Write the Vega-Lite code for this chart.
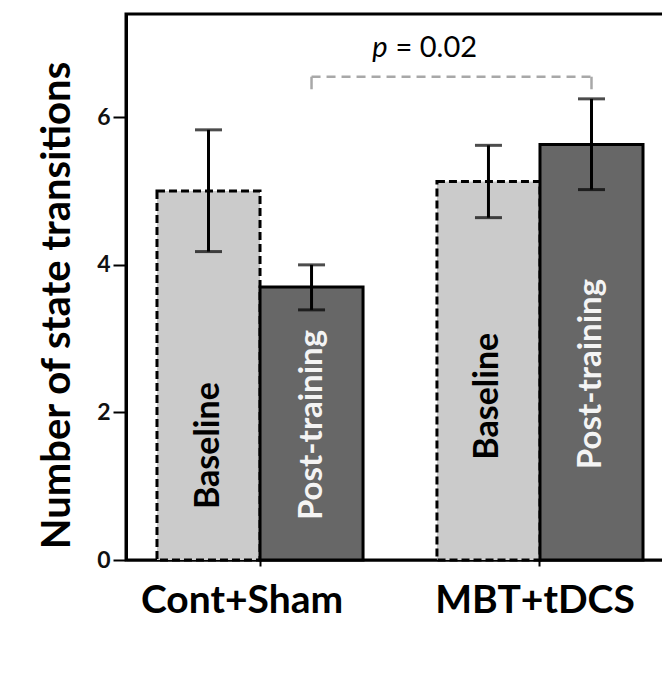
{
  "$schema": "https://vega.github.io/schema/vega-lite/v6.json",
  "width": 548,
  "height": 546,
  "autosize": {"type": "none"},
  "padding": {"left": 126, "top": 14, "right": 0, "bottom": 114},
  "background": "white",
  "config": {"view": {"stroke": "black", "strokeWidth": 3}, "font": "Lato"},
  "data": {"values": [
    {"group": "Cont+Sham", "condition": "Baseline", "mean": 5.0, "lo": 4.18, "hi": 5.83},
    {"group": "MBT+tDCS", "condition": "Baseline", "mean": 5.13, "lo": 4.64, "hi": 5.62},
    {"group": "Cont+Sham", "condition": "Post-training", "mean": 3.70, "lo": 3.39, "hi": 4.0},
    {"group": "MBT+tDCS", "condition": "Post-training", "mean": 5.63, "lo": 5.02, "hi": 6.25}
  ]},
  "encoding": {
    "x": {"field": "group", "type": "nominal", "sort": ["Cont+Sham", "MBT+tDCS"],
      "scale": {"paddingInner": 0.264, "paddingOuter": 0.1107},
      "axis": {"title": null, "labelFont": "Lato", "labelFontSize": 39, "labelFontWeight": "bold", "labelColor": "black", "labelPadding": 15, "labelLimit": 0, "labelAngle": 0,
        "labelOffset": {"condition": {"test": "datum.value === 'Cont+Sham'", "value": -18}, "value": -5},
        "tickSize": 6, "tickWidth": 2, "tickColor": "black", "domainColor": "black", "domainWidth": 2}},
    "xOffset": {"field": "condition", "type": "nominal", "sort": ["Baseline", "Post-training"], "scale": {"paddingInner": 0, "paddingOuter": 0}}
  },
  "layer": [
    {
      "mark": {"type": "bar", "stroke": "black", "strokeWidth": 3},
      "encoding": {
        "y": {"field": "mean", "type": "quantitative", "stack": null,
          "scale": {"domain": [0, 7.4], "nice": false},
          "axis": {"values": [0, 2, 4, 6], "format": "d", "grid": false, "tickSize": 13, "tickWidth": 2, "tickColor": "black", "domainColor": "black", "domainWidth": 3, "labelFontSize": 23, "labelFontWeight": "bold", "labelColor": "#111111", "labelPadding": 3, "title": "Number of state transitions", "titleFontSize": 40, "titleFontWeight": "bold", "titleColor": "black", "titleAngle": 270, "titleX": -69, "titleY": 291, "titleAlign": "center", "titleBaseline": "middle"}},
        "fill": {"field": "condition", "type": "nominal", "scale": {"domain": ["Baseline", "Post-training"], "range": ["#cbcbcb", "#676767"]}, "legend": null},
        "strokeDash": {"field": "condition", "type": "nominal", "scale": {"domain": ["Baseline", "Post-training"], "range": [[8, 4], [1, 0]]}, "legend": null}
      }
    },
    {
      "mark": {"type": "rule", "strokeWidth": 3, "color": "black"},
      "encoding": {"y": {"field": "lo", "type": "quantitative"}, "y2": {"field": "hi"}}
    },
    {
      "mark": {"type": "tick", "orient": "horizontal", "size": 27, "thickness": 3, "color": "black"},
      "encoding": {"y": {"field": "hi", "type": "quantitative"}}
    },
    {
      "mark": {"type": "tick", "orient": "horizontal", "size": 27, "thickness": 3, "color": "black"},
      "encoding": {"y": {"field": "lo", "type": "quantitative"}}
    },
    {
      "transform": [{"filter": "datum.condition === 'Post-training'"}],
      "mark": {"type": "line", "color": "#a8a8a8", "strokeWidth": 2.5, "strokeDash": [9, 6]},
      "encoding": {"y": {"datum": 6.55}}
    },
    {
      "transform": [{"filter": "datum.condition === 'Post-training'"}],
      "mark": {"type": "rule", "color": "#a8a8a8", "strokeWidth": 2.5},
      "encoding": {"y": {"datum": 6.55}, "y2": {"datum": 6.38}}
    },
    {
      "transform": [{"filter": "datum.group === 'Cont+Sham' && datum.condition === 'Post-training'"}],
      "mark": {"type": "text", "text": "p", "fontStyle": "italic", "fontSize": 29, "align": "right", "baseline": "alphabetic", "dx": 76, "color": "black"},
      "encoding": {"y": {"datum": 6.82}}
    },
    {
      "transform": [{"filter": "datum.group === 'Cont+Sham' && datum.condition === 'Post-training'"}],
      "mark": {"type": "text", "text": "= 0.02", "fontSize": 29, "align": "left", "baseline": "alphabetic", "dx": 84, "color": "black"},
      "encoding": {"y": {"datum": 6.82}}
    },
    {
      "transform": [{"filter": "datum.group === 'Cont+Sham' && datum.condition === 'Baseline'"}],
      "mark": {"type": "text", "angle": 270, "align": "center", "baseline": "middle", "fontSize": 34, "fontWeight": "bold", "color": "black"},
      "encoding": {"y": {"datum": 1.55}, "text": {"field": "condition"}}
    },
    {
      "transform": [{"filter": "datum.group === 'Cont+Sham' && datum.condition === 'Post-training'"}],
      "mark": {"type": "text", "angle": 270, "align": "center", "baseline": "middle", "fontSize": 33, "fontWeight": "bold", "color": "#f4f4f4"},
      "encoding": {"y": {"datum": 1.83}, "text": {"field": "condition"}}
    },
    {
      "transform": [{"filter": "datum.group === 'MBT+tDCS' && datum.condition === 'Baseline'"}],
      "mark": {"type": "text", "angle": 270, "align": "center", "baseline": "middle", "fontSize": 34, "fontWeight": "bold", "color": "black"},
      "encoding": {"y": {"datum": 2.22}, "text": {"field": "condition"}}
    },
    {
      "transform": [{"filter": "datum.group === 'MBT+tDCS' && datum.condition === 'Post-training'"}],
      "mark": {"type": "text", "angle": 270, "align": "center", "baseline": "middle", "fontSize": 33, "fontWeight": "bold", "color": "#f4f4f4"},
      "encoding": {"y": {"datum": 2.52}, "text": {"field": "condition"}}
    }
  ]
}
